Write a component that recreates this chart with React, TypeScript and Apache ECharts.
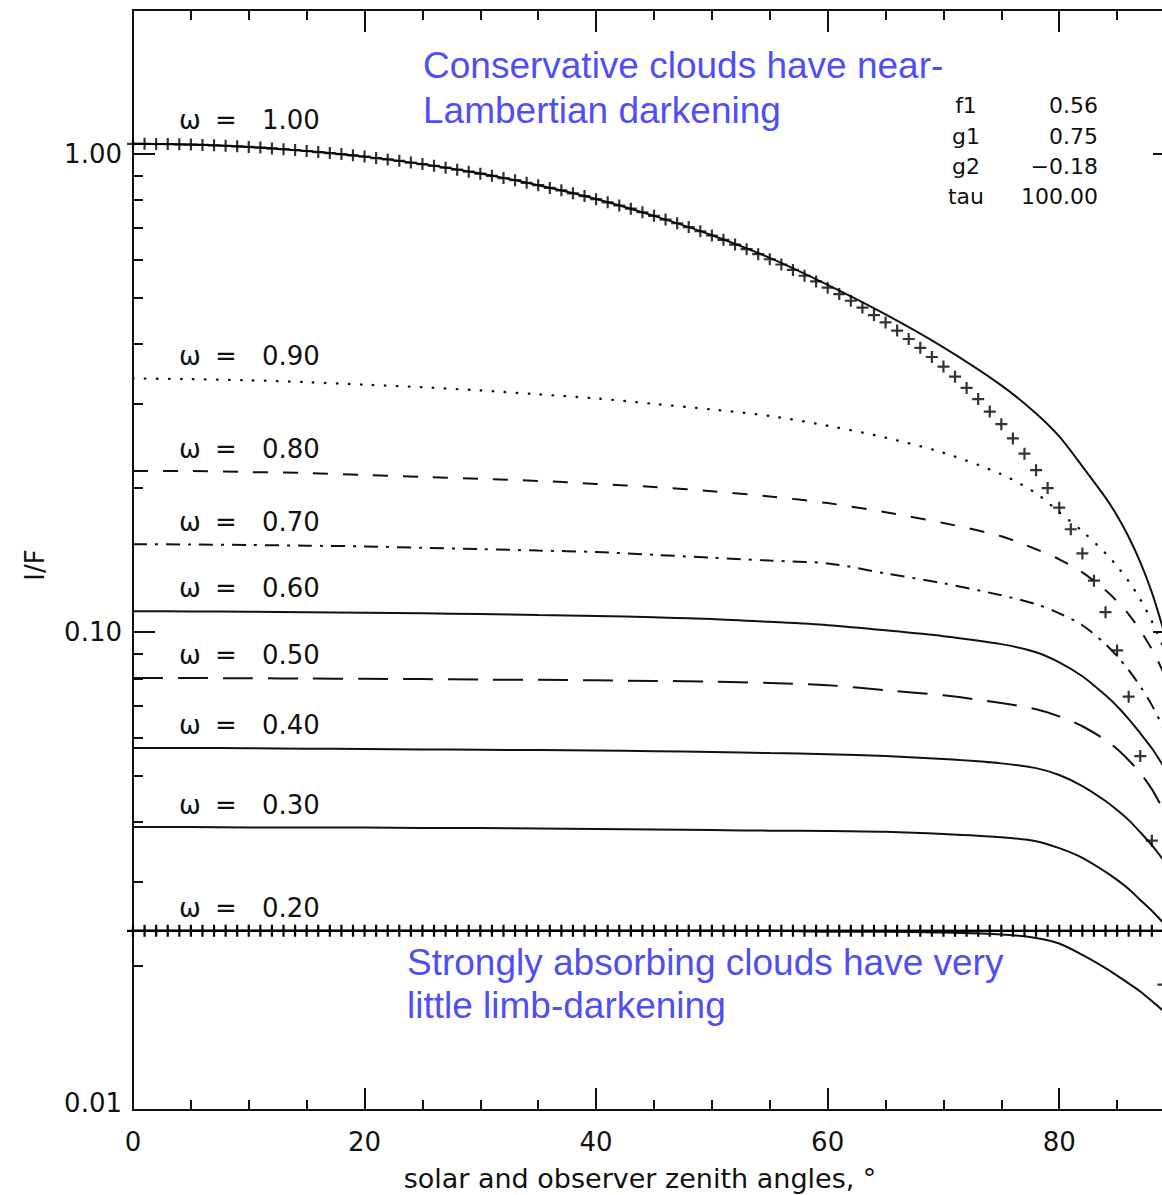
import React, { useEffect, useRef } from 'react';
import * as echarts from 'echarts';

// ---------- data ----------
const CURVE_ANGLES = [0, 5, 10, 15, 20, 25, 30, 35, 40, 45, 50, 55, 60, 65, 70, 75, 78, 80, 82, 84, 85, 86, 87, 88, 89];

const OMEGA_100 = [1.05, 1.046, 1.034, 1.014, 0.987, 0.952, 0.91, 0.86, 0.805, 0.742, 0.676, 0.606, 0.532, 0.4615, 0.3938, 0.328, 0.2865, 0.2565, 0.222, 0.191, 0.175, 0.158, 0.14, 0.121, 0.101];
const OMEGA_090 = [0.339, 0.338, 0.336, 0.333, 0.329, 0.325, 0.32, 0.314, 0.308, 0.3, 0.292, 0.283, 0.27, 0.255, 0.237, 0.2137, 0.195, 0.178, 0.1624, 0.1461, 0.1372, 0.1276, 0.117, 0.1053, 0.0929];
const OMEGA_080 = [0.217, 0.217, 0.216, 0.215, 0.213, 0.211, 0.209, 0.207, 0.204, 0.201, 0.197, 0.192, 0.186, 0.178, 0.169, 0.1585, 0.1489, 0.1419, 0.1332, 0.1222, 0.1159, 0.1089, 0.1008, 0.092, 0.0823];
const OMEGA_070 = [0.1526, 0.1524, 0.152, 0.1515, 0.151, 0.15, 0.149, 0.148, 0.147, 0.145, 0.143, 0.141, 0.1391, 0.1326, 0.1264, 0.1193, 0.1143, 0.1094, 0.1033, 0.0943, 0.089, 0.0832, 0.077, 0.0703, 0.0629];
const OMEGA_060 = [0.1105, 0.1104, 0.1102, 0.11, 0.1097, 0.1094, 0.109, 0.1085, 0.108, 0.1073, 0.1065, 0.105, 0.1033, 0.1008, 0.098, 0.0943, 0.0907, 0.0864, 0.0808, 0.0737, 0.0699, 0.0657, 0.0614, 0.0571, 0.0524];
const OMEGA_050 = [0.0801, 0.0801, 0.08, 0.0799, 0.0798, 0.0797, 0.0795, 0.0794, 0.0792, 0.079, 0.0787, 0.0782, 0.0774, 0.0755, 0.0737, 0.071, 0.0689, 0.0666, 0.0635, 0.0594, 0.0569, 0.0539, 0.0507, 0.0469, 0.0424];
const OMEGA_040 = [0.0572, 0.0572, 0.0571, 0.057, 0.0569, 0.0568, 0.0567, 0.0566, 0.0565, 0.0563, 0.0561, 0.0558, 0.0555, 0.055, 0.0542, 0.0531, 0.0519, 0.0502, 0.0476, 0.0443, 0.0424, 0.0404, 0.0381, 0.0358, 0.0333];
const OMEGA_030 = [0.0391, 0.0391, 0.039, 0.039, 0.039, 0.0389, 0.0389, 0.0388, 0.0387, 0.0386, 0.0385, 0.0384, 0.03835, 0.0382, 0.0378, 0.0372, 0.0365, 0.0353, 0.0337, 0.0315, 0.0303, 0.029, 0.0275, 0.0261, 0.0246];
const OMEGA_020 = [0.0237, 0.0237, 0.0237, 0.0237, 0.0237, 0.0237, 0.0237, 0.0237, 0.0237, 0.0237, 0.0237, 0.0237, 0.0236, 0.0236, 0.0235, 0.0233, 0.0229, 0.0223, 0.0211, 0.0198, 0.0191, 0.0184, 0.0177, 0.0169, 0.0161];

// Lambertian reference (+ symbols on the top curve), one per degree
const LAMBERT_ANGLES = [0, 1, 2, 3, 4, 5, 6, 7, 8, 9, 10, 11, 12, 13, 14, 15, 16, 17, 18, 19, 20, 21, 22, 23, 24, 25, 26, 27, 28, 29, 30, 31, 32, 33, 34, 35, 36, 37, 38, 39, 40, 41, 42, 43, 44, 45, 46, 47, 48, 49, 50, 51, 52, 53, 54, 55, 56, 57, 58, 59, 60, 61, 62, 63, 64, 65, 66, 67, 68, 69, 70, 71, 72, 73, 74, 75, 76, 77, 78, 79, 80, 81, 82, 83, 84, 85, 86, 87, 88, 89];
const LAMBERT_IF = [1.05, 1.05, 1.049, 1.049, 1.047, 1.046, 1.044, 1.042, 1.04, 1.037, 1.034, 1.031, 1.027, 1.023, 1.019, 1.014, 1.009, 1.004, 0.999, 0.993, 0.987, 0.98, 0.974, 0.967, 0.959, 0.952, 0.944, 0.936, 0.927, 0.918, 0.909, 0.9, 0.89, 0.881, 0.87, 0.86, 0.849, 0.839, 0.827, 0.816, 0.804, 0.792, 0.78, 0.768, 0.755, 0.742, 0.729, 0.716, 0.703, 0.689, 0.675, 0.661, 0.646, 0.632, 0.617, 0.602, 0.587, 0.572, 0.556, 0.541, 0.525, 0.509, 0.493, 0.477, 0.46, 0.444, 0.427, 0.41, 0.393, 0.376, 0.359, 0.342, 0.324, 0.307, 0.289, 0.272, 0.254, 0.236, 0.218, 0.2, 0.182, 0.164, 0.146, 0.128, 0.11, 0.0915, 0.0732, 0.055, 0.0366, 0.0183];

// flat reference line with + symbols at the omega = 0.20 level
const FLAT_ANGLES = [0, 1, 2, 3, 4, 5, 6, 7, 8, 9, 10, 11, 12, 13, 14, 15, 16, 17, 18, 19, 20, 21, 22, 23, 24, 25, 26, 27, 28, 29, 30, 31, 32, 33, 34, 35, 36, 37, 38, 39, 40, 41, 42, 43, 44, 45, 46, 47, 48, 49, 50, 51, 52, 53, 54, 55, 56, 57, 58, 59, 60, 61, 62, 63, 64, 65, 66, 67, 68, 69, 70, 71, 72, 73, 74, 75, 76, 77, 78, 79, 80, 81, 82, 83, 84, 85, 86, 87, 88, 89, 90];
const FLAT_IF = 0.0237;

const OMEGA_TEXT = ['1.00', '0.90', '0.80', '0.70', '0.60', '0.50', '0.40', '0.30', '0.20'];

const X_MAJOR = [0, 20, 40, 60, 80];
const X_MINOR = [5, 10, 15, 25, 30, 35, 45, 50, 55, 65, 70, 75, 85];
const Y_MAJOR = [0.01, 0.1, 1];
const Y_MINOR = [0.02, 0.03, 0.04, 0.05, 0.06, 0.07, 0.08, 0.09, 0.2, 0.3, 0.4, 0.5, 0.6, 0.7, 0.8, 0.9];

const PARAM_NAMES = ['f1', 'g1', 'g2', 'tau'];
const PARAM_VALUES = ['0.56', '0.75', '\u22120.18', '100.00'];

// ---------- layout / style ----------
const W = 1190;
const H = 1195;
const INK = '#111111';
const BLUE = '#4f4ff5';
const FONT = '"DejaVu Sans", sans-serif';
const BLUE_FONT = '"Liberation Sans", Arial, sans-serif';
const OMEGA_LABEL_Y = [120, 356, 449, 522, 588, 655, 725, 805, 908];
const PARAM_Y = [105, 136, 166, 196];

const CROSS = 'path://M-1.1,-6H1.1V6H-1.1Z M-6,-1.1H6V1.1H-6Z';

function pairs(xs: number[], ys: number[]) {
  return xs.map((x, i) => [x, ys[i]]);
}

function xAxisDef(position: 'top' | 'bottom', ticks: number[], len: number, labels: boolean) {
  return {
    type: 'value',
    min: 0,
    max: 90,
    position,
    axisLine: { show: true, onZero: false, lineStyle: { color: INK, width: 2 } },
    axisTick: { show: true, inside: true, length: len, customValues: ticks, lineStyle: { color: INK, width: 2 } },
    axisLabel: labels
      ? { show: true, customValues: X_MAJOR, margin: 19, color: INK, fontSize: 26, fontFamily: FONT, formatter: (v: number) => String(Math.round(v)) }
      : { show: false },
    splitLine: { show: false },
  };
}

function yAxisDef(position: 'left' | 'right', ticks: number[], len: number, labels: boolean) {
  return {
    type: 'log',
    logBase: 10,
    min: 0.01,
    max: 2,
    position,
    axisLine: { show: true, onZero: false, lineStyle: { color: INK, width: 2 } },
    axisTick: { show: true, inside: true, length: len, customValues: ticks, lineStyle: { color: INK, width: 2 } },
    axisLabel: labels
      ? {
          show: true,
          customValues: Y_MAJOR,
          margin: 11,
          color: INK,
          fontSize: 26,
          fontFamily: FONT,
          formatter: (v: number) => (v < 0.015 ? '{lo|0.01}' : Number(v).toFixed(2)),
          rich: { lo: { fontSize: 26, fontFamily: FONT, color: INK, padding: [0, 0, 15, 0] } },
        }
      : { show: false },
    splitLine: { show: false },
    minorTick: { show: false },
  };
}

function curve(name: string, values: number[], dash: any, cap = 'butt', width = 2) {
  return {
    name,
    type: 'line',
    data: pairs(CURVE_ANGLES, values),
    showSymbol: false,
    symbol: 'none',
    smooth: 0.3,
    lineStyle: { color: INK, width, type: dash, cap },
    xAxisIndex: 0,
    yAxisIndex: 0,
    z: 3,
  };
}

function txt(x: number, y: number, text: string, size: number, align: string, fill = INK, family = FONT) {
  return {
    type: 'text',
    x,
    y,
    z: 10,
    style: {
      text,
      fill,
      font: `${size}px ${family}`,
      textAlign: align,
      align,
      textVerticalAlign: 'middle',
      verticalAlign: 'middle',
    },
  };
}

export default function App() {
  const ref = useRef<HTMLDivElement>(null);

  useEffect(() => {
    document.body.style.margin = '0';
    document.body.style.overflow = 'hidden';
    if (!ref.current) return;
    const chart = echarts.init(ref.current, undefined, { renderer: 'svg' });

    const graphic: any[] = [];
    OMEGA_TEXT.forEach((t, i) => {
      const y = OMEGA_LABEL_Y[i];
      graphic.push(txt(179, y, '\u03c9', 26, 'left'));
      graphic.push(txt(215, y, '=', 26, 'left'));
      graphic.push(txt(262, y, t, 26, 'left'));
    });
    PARAM_NAMES.forEach((n, i) => {
      graphic.push(txt(966, PARAM_Y[i], n, 22, 'center'));
      graphic.push(txt(1098, PARAM_Y[i], PARAM_VALUES[i], 22, 'right'));
    });
    graphic.push(txt(423, 65, 'Conservative clouds have near-', 37, 'left', BLUE, BLUE_FONT));
    graphic.push(txt(423, 110, 'Lambertian darkening', 37, 'left', BLUE, BLUE_FONT));
    graphic.push(txt(407, 962, 'Strongly absorbing clouds have very', 37, 'left', BLUE, BLUE_FONT));
    graphic.push(txt(407, 1005, 'little limb-darkening', 37, 'left', BLUE, BLUE_FONT));
    graphic.push(txt(640, 1178, 'solar and observer zenith angles, \u00b0', 27, 'center'));
    graphic.push({
      type: 'text',
      x: 35,
      y: 565,
      rotation: Math.PI / 2,
      z: 10,
      style: { text: 'I/F', fill: INK, font: `26px ${FONT}`, textAlign: 'center', align: 'center', textVerticalAlign: 'middle', verticalAlign: 'middle' },
    });

    const option: any = {
      animation: false,
      backgroundColor: '#ffffff',
      grid: { left: 133, top: 10, right: W - 1175, bottom: H - 1110, containLabel: false },
      xAxis: [
        xAxisDef('bottom', X_MAJOR, 22, true),
        xAxisDef('bottom', X_MINOR, 10, false),
        xAxisDef('top', X_MAJOR, 22, false),
        xAxisDef('top', X_MINOR, 10, false),
      ],
      yAxis: [
        yAxisDef('left', Y_MAJOR, 22, true),
        yAxisDef('left', Y_MINOR, 10, false),
        yAxisDef('right', Y_MAJOR, 22, false),
        yAxisDef('right', Y_MINOR, 10, false),
      ],
      series: [
        curve('\u03c9 = 1.00', OMEGA_100, 'solid'),
        curve('\u03c9 = 0.90', OMEGA_090, [0.5, 11.5], 'round', 2.4),
        curve('\u03c9 = 0.80', OMEGA_080, [15, 15]),
        curve('\u03c9 = 0.70', OMEGA_070, [14, 8, 3, 8]),
        curve('\u03c9 = 0.60', OMEGA_060, 'solid'),
        curve('\u03c9 = 0.50', OMEGA_050, [30, 15]),
        curve('\u03c9 = 0.40', OMEGA_040, 'solid'),
        curve('\u03c9 = 0.30', OMEGA_030, 'solid'),
        curve('\u03c9 = 0.20', OMEGA_020, 'solid'),
        {
          name: 'Lambert',
          type: 'scatter',
          data: pairs(LAMBERT_ANGLES, LAMBERT_IF),
          symbol: CROSS,
          symbolSize: 12,
          itemStyle: { color: '#000' },
          xAxisIndex: 0,
          yAxisIndex: 0,
          z: 4,
        },
        {
          name: 'flat',
          type: 'line',
          data: FLAT_ANGLES.map((a) => [a, FLAT_IF]),
          showSymbol: true,
          symbol: CROSS,
          symbolSize: 12,
          itemStyle: { color: '#000' },
          lineStyle: { color: INK, width: 2 },
          xAxisIndex: 0,
          yAxisIndex: 0,
          z: 4,
        },
      ],
      graphic,
    };

    chart.setOption(option);
    return () => chart.dispose();
  }, []);

  return (
    <div style={{ position: 'absolute', left: 0, top: 0, width: 1162, height: H, overflow: 'hidden', background: '#fff' }}>
      <div ref={ref} style={{ width: W, height: H }} />
    </div>
  );
}
